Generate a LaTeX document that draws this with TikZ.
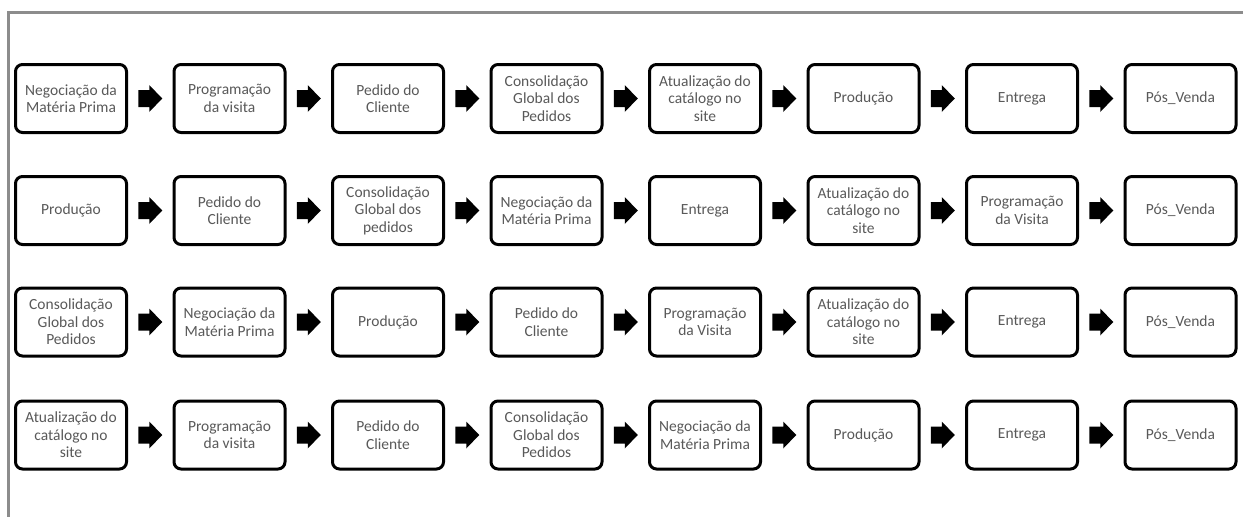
\documentclass[tikz,border=0pt]{standalone}
\usepackage{fontspec}
\setmainfont{Carlito}
\usetikzlibrary{calc}
\definecolor{txt}{HTML}{595959}
\definecolor{framecol}{HTML}{8C8C8C}
\begin{document}
\begin{tikzpicture}[x=1pt,y=-1pt,
  box/.style={draw=black, line width=3pt, rounded corners=7pt, fill=white,
    minimum width=111pt, minimum height=68pt, inner sep=0pt, align=center,
    text=txt, font=\fontsize{15.5}{17.5}\selectfont},
  blockarrow/.style={fill=black}]
\useasboundingbox (0,0) rectangle (1243,517);
\fill[white] (0,0) rectangle (1243,517);
\draw[framecol, line width=3pt] (8,517) -- (8,12) -- (1243,12);
% row 1
\node[box] (r1c1) at (71,98.5) {Negociação da\\Matéria Prima};
\node[box] (r1c2) at (229.5,98.5) {Programação\\da visita};
\node[box] (r1c3) at (388,98.5) {Pedido do\\Cliente};
\node[box] (r1c4) at (546.5,98.5) {Consolidação\\Global dos\\Pedidos};
\node[box] (r1c5) at (705,98.5) {Atualização do\\catálogo no\\site};
\node[box] (r1c6) at (863.5,98.5) {Produção};
\node[box] (r1c7) at (1022,98.5) {Entrega};
\node[box] (r1c8) at (1180.5,98.5) {Pós\_Venda};
% row 2
\node[box] (r2c1) at (71,210.5) {Produção};
\node[box] (r2c2) at (229.5,210.5) {Pedido do\\Cliente};
\node[box] (r2c3) at (388,210.5) {Consolidação\\Global dos\\pedidos};
\node[box] (r2c4) at (546.5,210.5) {Negociação da\\Matéria Prima};
\node[box] (r2c5) at (705,210.5) {Entrega};
\node[box] (r2c6) at (863.5,210.5) {Atualização do\\catálogo no\\site};
\node[box] (r2c7) at (1022,210.5) {Programação\\da Visita};
\node[box] (r2c8) at (1180.5,210.5) {Pós\_Venda};
% row 3
\node[box] (r3c1) at (71,322) {Consolidação\\Global dos\\Pedidos};
\node[box] (r3c2) at (229.5,322) {Negociação da\\Matéria Prima};
\node[box] (r3c3) at (388,322) {Produção};
\node[box] (r3c4) at (546.5,322) {Pedido do\\Cliente};
\node[box] (r3c5) at (705,322) {Programação\\da Visita};
\node[box] (r3c6) at (863.5,322) {Atualização do\\catálogo no\\site};
\node[box] (r3c7) at (1022,322) {Entrega};
\node[box] (r3c8) at (1180.5,322) {Pós\_Venda};
% row 4
\node[box] (r4c1) at (71,435) {Atualização do\\catálogo no\\site};
\node[box] (r4c2) at (229.5,435) {Programação\\da visita};
\node[box] (r4c3) at (388,435) {Pedido do\\Cliente};
\node[box] (r4c4) at (546.5,435) {Consolidação\\Global dos\\Pedidos};
\node[box] (r4c5) at (705,435) {Negociação da\\Matéria Prima};
\node[box] (r4c6) at (863.5,435) {Produção};
\node[box] (r4c7) at (1022,435) {Entrega};
\node[box] (r4c8) at (1180.5,435) {Pós\_Venda};
% block arrows
\foreach \r in {1,...,4}{
  \foreach \c [evaluate=\c as \n using int(\c+1)] in {1,...,7}{
    \coordinate (m\r-\c) at ($(r\r c\c.east)!0.5!(r\r c\n.west)$);
    \fill[blockarrow] (m\r-\c) ++(-12,8.5) -- ++(11,0) -- ++(0,5) -- ++(13,-13.5)
      -- ++(-13,-13.5) -- ++(0,5) -- ++(-11,0) -- cycle;
  }
}
\end{tikzpicture}
\end{document}
